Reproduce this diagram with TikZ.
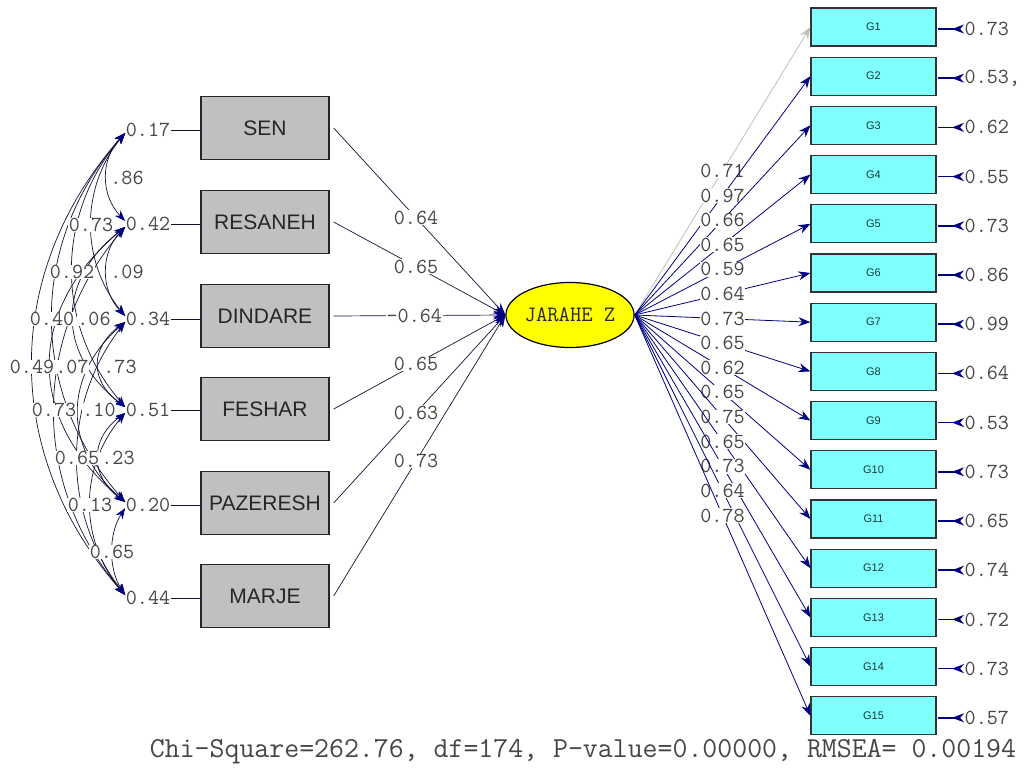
\documentclass[tikz,border=0pt]{standalone}
\usepackage{fontspec}
\setmainfont{Liberation Sans}
\usetikzlibrary{arrows.meta,shapes.geometric}
\definecolor{boxgray}{RGB}{192,192,192}
\definecolor{gcyan}{RGB}{128,255,255}
\definecolor{ellyellow}{RGB}{255,255,0}
\definecolor{navyarr}{RGB}{0,0,128}
\definecolor{numgray}{RGB}{70,70,70}
\definecolor{lineblk}{RGB}{20,20,55}
\definecolor{gtext}{RGB}{20,60,60}
\begin{document}
\begin{tikzpicture}[x=1pt,y=-1pt,
  lbox/.style={draw=black!85, line width=1.3pt, fill=boxgray, minimum width=128pt, minimum height=63pt, inner sep=0pt, font=\fontsize{21}{24}\selectfont, text=black!85},
  gbox/.style={draw=black!80, line width=1.2pt, fill=gcyan, minimum width=125pt, minimum height=38pt, inner sep=0pt, font=\fontsize{11}{13}\selectfont, text=gtext},
  num/.style={font=\ttfamily\fontsize{21.5}{23}\selectfont, text=numgray, fill=white, inner sep=0.5pt},
  numc/.style={font=\ttfamily\fontsize{21.5}{23}\selectfont, text=numgray, inner sep=0.5pt},
  pathl/.style={draw=lineblk, line width=0.7pt, -{Stealth[length=12pt,width=9pt,color=navyarr]}},
  cov/.style={draw=lineblk, line width=0.7pt, {Stealth[length=11pt,width=8pt,color=navyarr]}-{Stealth[length=11pt,width=8pt,color=navyarr]}},
  load/.style={draw=navyarr, line width=0.8pt, -{Stealth[length=12pt,width=9pt]}},
  errr/.style={draw=navyarr, line width=1.5pt, {Stealth[length=12pt,width=9pt,reversed]}-},
  errl/.style={draw=lineblk, line width=0.9pt},
]
\useasboundingbox (0,0) rectangle (1024,771);
\fill[white] (0,0) rectangle (1024,771);

% left observed boxes
\node[lbox] (sen) at (265,128) {SEN};
\node[lbox] (res) at (265,222) {RESANEH};
\node[lbox] (din) at (265,316) {DINDARE};
\node[lbox] (fes) at (265,409) {FESHAR};
\node[lbox] (paz) at (265,503) {PAZERESH};
\node[lbox] (mar) at (265,596) {MARJE};

% error labels left
\node[numc] (e1) at (148,130) {0.17};
\node[numc] (e2) at (148,224) {0.42};
\node[numc] (e3) at (148,319) {0.34};
\node[numc] (e4) at (148,410) {0.51};
\node[numc] (e5) at (148,505) {0.20};
\node[numc] (e6) at (148,598) {0.44};
\foreach \e/\b in {e1/sen,e2/res,e3/din,e4/fes,e5/paz,e6/mar}
  \draw[errl] (\e.east) -- (\e.east -| \b.west);

% covariance arcs
\draw[cov] ([yshift=-3pt]e1.west) .. controls (100.3,159) and (100.3,195) .. ([yshift=3pt]e2.west);
\draw[cov] ([yshift=-3pt]e2.west) .. controls (100.3,253) and (100.3,290) .. ([yshift=3pt]e3.west);
\draw[cov] ([yshift=-3pt]e3.west) .. controls (89.7,348) and (89.7,381) .. ([yshift=3pt]e4.west);
\draw[cov] ([yshift=-3pt]e4.west) .. controls (89.7,439) and (89.7,476) .. ([yshift=3pt]e5.west);
\draw[cov] ([yshift=-3pt]e5.west) .. controls (108.3,534) and (108.3,569) .. ([yshift=3pt]e6.west);
\draw[cov] ([yshift=-3pt]e1.west) .. controls (80.3,188) and (80.3,261) .. ([yshift=3pt]e3.west);
\draw[cov] ([yshift=-3pt]e2.west) .. controls (56.3,281) and (56.3,353) .. ([yshift=3pt]e4.west);
\draw[cov] ([yshift=-3pt]e3.west) .. controls (63,376) and (63,448) .. ([yshift=3pt]e5.west);
\draw[cov] ([yshift=-3pt]e4.west) .. controls (79,468) and (79,540) .. ([yshift=3pt]e6.west);
\draw[cov] ([yshift=-3pt]e1.west) .. controls (55,215) and (55,325) .. ([yshift=3pt]e4.west);
\draw[cov] ([yshift=-3pt]e2.west) .. controls (25.7,309) and (25.7,420) .. ([yshift=3pt]e5.west);
\draw[cov] ([yshift=-3pt]e3.west) .. controls (61.7,404) and (61.7,513) .. ([yshift=3pt]e6.west);
\draw[cov] ([yshift=-3pt]e1.west) .. controls (28.3,243) and (28.3,392) .. ([yshift=3pt]e5.west);
\draw[cov] ([yshift=-3pt]e2.west) .. controls (31,337) and (31,485) .. ([yshift=3pt]e6.west);
\draw[cov] ([yshift=-3pt]e1.west) .. controls (1.7,272) and (1.7,456) .. ([yshift=3pt]e6.west);

% covariance labels
\node[num] (c12) at (127,178) {.86};
\node[num] (c23) at (127,272) {.09};
\node[num] (c34) at (120,367) {.73};
\node[num] (c45) at (118,458) {.23};
\node[num] (c56) at (112,552) {0.65};
\node[num] (c13) at (91,225) {0.73};
\node[num] (c24) at (94,319) {.06};
\node[num] (c35) at (99,410) {.10};
\node[num] (c46) at (90,505) {0.13};
\node[num] (c14) at (72,272) {0.92};
\node[num] (c25) at (72,367) {.07};
\node[num] (c36) at (77,458) {0.65};
\node[num] (c15) at (52,319) {0.40};
\node[num] (c26) at (54,410) {0.73};
\node[num] (c16) at (32,367) {0.49};

% latent variable
\node[draw=black, line width=1.2pt, fill=ellyellow, ellipse, minimum width=123pt, minimum height=65pt, inner sep=0pt, font=\ttfamily\fontsize{22}{24}\selectfont, text=black!85] (jz) at (570,315) {JARAHE Z};

% paths into latent
\draw[pathl] ([xshift=4pt]sen.east) -- node[num,pos=0.48]{0.64} (jz.west);
\draw[pathl] ([xshift=4pt]res.east) -- node[num,pos=0.48]{0.65} (jz.west);
\draw[pathl] ([xshift=4pt]din.east) -- node[num,pos=0.47]{-0.64} (jz.west);
\draw[pathl] ([xshift=4pt]fes.east) -- node[num,pos=0.48]{0.65} (jz.west);
\draw[pathl] ([xshift=4pt]paz.east) -- node[num,pos=0.48]{0.63} (jz.west);
\draw[pathl] ([xshift=4pt]mar.east) -- node[num,pos=0.48]{0.73} (jz.west);

% right indicator boxes
\foreach \i/\e in {1/0.73,2/{0.53,},3/0.62,4/0.55,5/0.73,6/0.86,7/0.99,8/0.64,9/0.53,10/0.73,11/0.65,12/0.74,13/0.72,14/0.73,15/0.57}{
  \node[gbox] (g\i) at (873.5,{27+(\i-1)*49.2}) {G\i};
  \node[numc, anchor=west] (r\i) at (964,{29+(\i-1)*49.2}) {\e};
  \draw[errr] (r\i.west) -- ([xshift=1pt]r\i.west -| g\i.east);
}

% loadings
\draw[draw=black!25, line width=0.8pt, -{Stealth[length=12pt,width=9pt]}] (jz.east) -- node[num,pos=0.5]{0.71} (g1.west);
\foreach \i/\l in {2/0.97,3/0.66,4/0.65,5/0.59,6/0.64,7/0.73,8/0.65,9/0.62,10/0.65,11/0.75,12/0.65,13/0.73,14/0.64,15/0.78}
  \draw[load] (jz.east) -- node[num,pos=0.5]{\l} (g\i.west);

% fit statistics
\node[font=\ttfamily\fontsize{29}{31}\selectfont, text=numgray] (fit) at (583,752) {Chi-Square=262.76, df=174, P-value=0.00000, RMSEA= 0.00194};
\end{tikzpicture}
\end{document}
